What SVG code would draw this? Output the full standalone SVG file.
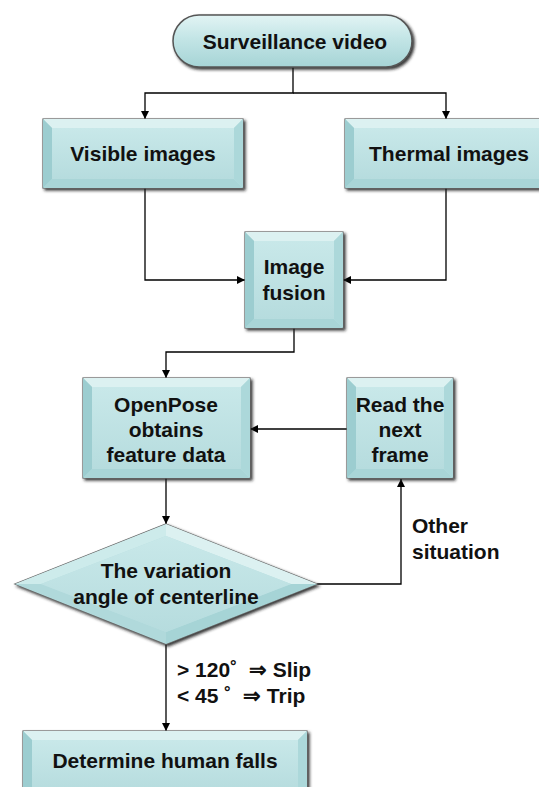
<svg xmlns="http://www.w3.org/2000/svg" width="539" height="787" viewBox="0 0 539 787">
<defs>
<filter id="sh" x="-10%" y="-10%" width="125%" height="135%">
<feDropShadow dx="2" dy="2" stdDeviation="1.6" flood-color="#1a1a1a" flood-opacity="0.9"/>
</filter>
<linearGradient id="pill" x1="0" y1="0" x2="0" y2="1">
<stop offset="0" stop-color="#e2f4f4"/>
<stop offset="0.45" stop-color="#c3e5e6"/>
<stop offset="1" stop-color="#a6d4d6"/>
</linearGradient>
<linearGradient id="face" x1="0" y1="0" x2="0" y2="1">
<stop offset="0" stop-color="#c8e8e9"/>
<stop offset="1" stop-color="#b6dcde"/>
</linearGradient>
<marker id="ah" viewBox="0 0 10 10" refX="10" refY="5" markerWidth="9" markerHeight="8" markerUnits="userSpaceOnUse" orient="auto">
<path d="M0,0 L10,5 L0,10 z" fill="#000"/>
</marker>
</defs>
<style>
.frame{fill:#b8dee0;stroke:#666;stroke-width:1.2;filter:url(#sh)}
.f{fill:url(#face)}
.bt{fill:#dcf1f1}
.bb{fill:#a9d5d7}
.bl{fill:#9ccdd0}
.br{fill:#acd8da}
.t{font-family:"Liberation Sans",Arial,Helvetica,sans-serif;font-weight:bold;font-size:21px;fill:#111;text-anchor:middle}
.tl{font-family:"Liberation Sans",Arial,Helvetica,sans-serif;font-weight:bold;font-size:21px;fill:#111}
.c{fill:none;stroke:#000;stroke-width:1.3}
</style>
<rect width="539" height="787" fill="#fff"/>

<g id="connectors">
<path class="c" d="M293,67 V93 H145 V119" marker-end="url(#ah)"/>
<path class="c" d="M293,93 H446 V119" marker-end="url(#ah)"/>
<path class="c" d="M145,188 V280 H245" marker-end="url(#ah)"/>
<path class="c" d="M446,188 V280 H343" marker-end="url(#ah)"/>
<path class="c" d="M294,328 V352 H166 V378" marker-end="url(#ah)"/>
<path class="c" d="M347,429 H250" marker-end="url(#ah)"/>
<path class="c" d="M166,478 V524" marker-end="url(#ah)"/>
<path class="c" d="M317,584 H401 V479" marker-end="url(#ah)"/>
<path class="c" d="M166,644 V731" marker-end="url(#ah)"/>
<text class="tl" x="412" y="533">Other</text>
<text class="tl" x="412" y="559">situation</text>
<text class="tl" x="177" y="677">&gt; 120˚&#160; ⇒ Slip</text>
<text class="tl" x="177" y="703">&lt; 45 ˚&#160; ⇒ Trip</text>
</g>

<g id="surveillance">
<rect x="173" y="15" width="239" height="52" rx="26" fill="url(#pill)" stroke="#555" stroke-width="1.5" filter="url(#sh)"/>
<text class="t" x="295" y="49">Surveillance video</text>
</g>

<g id="visible">
<rect class="frame" x="43" y="119" width="200" height="69"/>
<polygon class="bt" points="43,119 243,119 234,128 52,128"/>
<polygon class="bb" points="43,188 243,188 234,179 52,179"/>
<polygon class="bl" points="43,119 52,128 52,179 43,188"/>
<polygon class="br" points="243,119 234,128 234,179 243,188"/>
<rect class="f" x="52" y="128" width="182" height="51"/>
<text class="t" x="143" y="161">Visible images</text>
</g>

<g id="thermal">
<rect class="frame" x="345" y="119" width="204" height="69"/>
<polygon class="bt" points="345,119 549,119 540,128 354,128"/>
<polygon class="bb" points="345,188 549,188 540,179 354,179"/>
<polygon class="bl" points="345,119 354,128 354,179 345,188"/>
<polygon class="br" points="549,119 540,128 540,179 549,188"/>
<rect class="f" x="354" y="128" width="186" height="51"/>
<text class="t" x="449" y="161">Thermal images</text>
</g>

<g id="fusion">
<rect class="frame" x="245" y="232" width="98" height="96"/>
<polygon class="bt" points="245,232 343,232 334,241 254,241"/>
<polygon class="bb" points="245,328 343,328 334,319 254,319"/>
<polygon class="bl" points="245,232 254,241 254,319 245,328"/>
<polygon class="br" points="343,232 334,241 334,319 343,328"/>
<rect class="f" x="254" y="241" width="80" height="78"/>
<text class="t" x="294" y="274">Image</text>
<text class="t" x="294" y="300">fusion</text>
</g>

<g id="openpose">
<rect class="frame" x="83" y="378" width="167" height="100"/>
<polygon class="bt" points="83,378 250,378 241,387 92,387"/>
<polygon class="bb" points="83,478 250,478 241,469 92,469"/>
<polygon class="bl" points="83,378 92,387 92,469 83,478"/>
<polygon class="br" points="250,378 241,387 241,469 250,478"/>
<rect class="f" x="92" y="387" width="149" height="82"/>
<text class="t" x="166" y="412">OpenPose</text>
<text class="t" x="166" y="437">obtains</text>
<text class="t" x="166" y="462">feature data</text>
</g>

<g id="readnext">
<rect class="frame" x="347" y="378" width="106" height="100"/>
<polygon class="bt" points="347,378 453,378 444,387 356,387"/>
<polygon class="bb" points="347,478 453,478 444,469 356,469"/>
<polygon class="bl" points="347,378 356,387 356,469 347,478"/>
<polygon class="br" points="453,378 444,387 444,469 453,478"/>
<rect class="f" x="356" y="387" width="88" height="82"/>
<text class="t" x="400" y="412">Read the</text>
<text class="t" x="400" y="437">next</text>
<text class="t" x="400" y="462">frame</text>
</g>

<g id="decision">
<polygon points="166,524 317,584 166,644 15,584" fill="#b8dee0" stroke="#666" stroke-width="1.2" filter="url(#sh)"/>
<polygon fill="#cdebeb" points="15,584 166,524 166,536 41,584"/>
<polygon fill="#dcf1f1" points="166,524 317,584 291,584 166,536"/>
<polygon fill="#a6d4d6" points="317,584 166,644 166,632 291,584"/>
<polygon fill="#b0d9db" points="166,644 15,584 41,584 166,632"/>
<polygon fill="url(#face)" points="166,536 291,584 166,632 41,584"/>
<text class="t" x="166" y="578">The variation</text>
<text class="t" x="166" y="604">angle of centerline</text>
</g>

<g id="determine">
<rect class="frame" x="23" y="731" width="284" height="69"/>
<polygon class="bt" points="23,731 307,731 298,740 32,740"/>
<polygon class="bl" points="23,731 32,740 32,791 23,800"/>
<polygon class="br" points="307,731 298,740 298,791 307,800"/>
<rect class="f" x="32" y="740" width="266" height="51"/>
<text class="t" x="165" y="768">Determine human falls</text>
</g>
</svg>
